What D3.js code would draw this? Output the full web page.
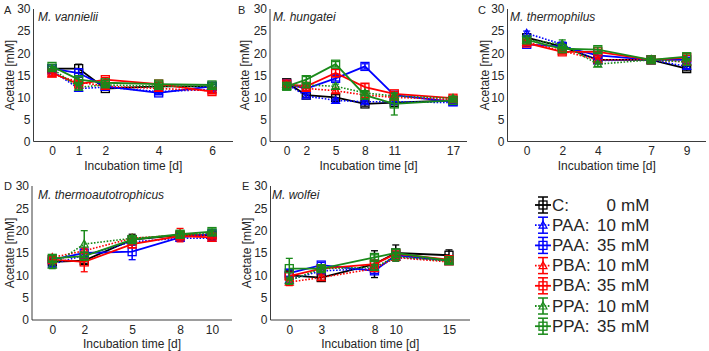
<!DOCTYPE html>
<html><head><meta charset="utf-8">
<script src="https://cdn.jsdelivr.net/npm/d3@7"></script>
<style>
html,body{margin:0;padding:0;background:#fff;}
text{font-family:"Liberation Sans",Arial,sans-serif;fill:#262626;}
</style></head>
<body><svg id="chart" width="709" height="351"></svg>
<script>
// ---------- DATA ----------
const seriesLabels = ["C:", "PAA:", "PAA:", "PBA:", "PBA:", "PPA:", "PPA:"];
const seriesDoses  = ["0 mM", "10 mM", "35 mM", "10 mM", "35 mM", "10 mM", "35 mM"];
const seriesColors = ["#000000", "#0000ff", "#0000ff", "#ff0000", "#ff0000", "#1a8a1a", "#1a8a1a"];
const seriesMarkers = ["square", "triangle", "square", "triangle", "square", "triangle", "square"];
const seriesDotted  = [false, true, false, true, false, true, false];

const panelLetters = ["A", "B", "C", "D", "E"];
const panelTitles = ["M. vannielii", "M. hungatei", "M. thermophilus", "M. thermoautotrophicus", "M. wolfei"];
const yTicks = [0, 5, 10, 15, 20, 25, 30];

const A_days = [0, 1, 2, 4, 6];
const A_values = [
  [16.5, 16.5, 12.0, 12.5, 12.5],
  [16.0, 12.0, 12.3, 11.3, 11.8],
  [16.5, 15.5, 12.5, 11.0, 12.5],
  [15.3, 13.5, 12.5, 12.0, 11.5],
  [15.5, 13.0, 14.0, 13.0, 11.3],
  [16.5, 12.3, 12.8, 12.5, 12.5],
  [17.0, 14.0, 13.3, 13.0, 12.8]
];
const A_err = [
  [0.5, 1.0, 0.4, 0.4, 0.4],
  [0.5, 0.6, 0.4, 0.5, 0.4],
  [0.5, 1.0, 0.5, 0.4, 0.5],
  [0.5, 0.5, 0.5, 0.4, 0.5],
  [0.5, 0.6, 0.5, 0.4, 0.5],
  [0.5, 0.6, 0.5, 0.4, 0.5],
  [0.5, 0.6, 0.5, 0.5, 0.5]
];

const B_days = [0, 2, 5, 8, 11, 17];
const B_values = [
  [13.3, 10.5, 10.0, 8.5, 8.8, 9.3],
  [13.0, 10.3, 9.3, 9.0, 9.0, 8.8],
  [13.0, 12.0, 14.3, 17.0, 10.5, 9.0],
  [13.0, 12.0, 11.5, 10.5, 10.0, 9.5],
  [13.0, 12.5, 15.5, 12.3, 10.8, 9.8],
  [12.5, 12.8, 12.5, 11.0, 10.3, 9.8],
  [12.5, 14.0, 17.5, 10.5, 8.5, 9.3]
];
const B_err = [
  [0.5, 0.5, 0.6, 0.5, 0.5, 0.4],
  [0.5, 0.4, 0.5, 0.4, 0.4, 0.5],
  [0.5, 0.5, 0.6, 0.6, 0.5, 0.4],
  [0.5, 0.5, 0.5, 0.5, 0.5, 0.4],
  [0.5, 0.5, 0.8, 0.8, 0.5, 0.5],
  [0.5, 0.5, 0.5, 0.5, 0.5, 0.4],
  [0.5, 0.7, 0.6, 0.8, 2.5, 0.4]
];

const C_days = [0, 2, 4, 7, 9];
const C_values = [
  [23.5, 21.5, 18.5, 18.5, 16.5],
  [24.5, 22.0, 18.3, 18.5, 17.0],
  [22.0, 21.5, 19.5, 18.5, 18.5],
  [22.5, 20.5, 18.5, 18.5, 18.0],
  [22.3, 20.3, 20.3, 18.5, 19.0],
  [23.0, 22.0, 17.5, 18.5, 18.0],
  [23.0, 21.0, 20.8, 18.5, 19.2]
];
const C_err = [
  [0.5, 0.6, 0.5, 0.5, 0.5],
  [0.5, 0.5, 0.5, 0.5, 0.5],
  [0.5, 0.5, 0.5, 0.5, 0.5],
  [0.5, 0.5, 0.5, 0.5, 0.5],
  [0.5, 0.5, 0.5, 0.5, 0.5],
  [0.5, 1.0, 0.5, 0.5, 0.8],
  [0.5, 0.5, 0.6, 0.5, 0.6]
];

const D_days = [0, 2, 5, 8, 10];
const D_values = [
  [13.0, 13.3, 18.0, 19.0, 19.0],
  [12.5, 14.5, 17.5, 18.3, 18.3],
  [13.5, 15.0, 15.3, 18.5, 19.3],
  [14.0, 15.5, 18.3, 19.0, 19.0],
  [13.5, 13.0, 17.0, 18.8, 18.5],
  [12.3, 17.0, 18.3, 19.0, 19.5],
  [13.8, 14.3, 18.0, 19.2, 19.8]
];
const D_err = [
  [0.6, 0.6, 1.2, 0.6, 0.6],
  [0.6, 0.6, 0.6, 0.5, 0.5],
  [0.7, 0.8, 1.8, 0.6, 0.6],
  [0.6, 0.6, 0.6, 1.5, 0.6],
  [0.6, 2.2, 0.8, 0.8, 0.6],
  [0.8, 3.0, 0.6, 0.6, 0.6],
  [0.6, 0.8, 0.6, 0.6, 0.6]
];

const E_days = [0, 3, 8, 10, 15];
const E_values = [
  [10.0, 9.5, 12.5, 15.0, 14.5],
  [9.0, 11.0, 11.5, 14.0, 13.3],
  [10.5, 12.3, 11.0, 14.5, 13.3],
  [8.5, 9.5, 11.5, 14.0, 13.0],
  [9.8, 11.5, 12.5, 14.8, 13.5],
  [8.8, 11.5, 11.8, 14.2, 13.2],
  [11.5, 11.5, 14.0, 15.0, 13.3]
];
const E_err = [
  [1.0, 0.6, 3.0, 1.8, 1.2],
  [0.8, 0.6, 0.6, 0.6, 0.5],
  [0.8, 0.6, 0.6, 0.6, 0.5],
  [0.8, 0.6, 0.6, 0.6, 0.5],
  [0.8, 0.6, 0.6, 0.6, 0.5],
  [0.8, 0.6, 0.6, 1.0, 0.5],
  [2.3, 0.6, 0.6, 0.8, 0.5]
];

const allDays = [A_days, B_days, C_days, D_days, E_days];
const allValues = [A_values, B_values, C_values, D_values, E_values];
const allErr = [A_err, B_err, C_err, D_err, E_err];

// ---------- LAYOUT ----------
const layouts = [
  {axL: 33.5, axR: 233, d0: 0, p0: 52,    d1: 6,  p1: 212,   yT: 9,   yB: 141.5, letter: [4, 14],   title: [38, 21],  ylabX: 10,  xlabY: 170},
  {axL: 270,  axR: 467, d0: 0, p0: 286.7, d1: 17, p1: 453,   yT: 9,   yB: 141.5, letter: [238, 14], title: [273, 21], ylabX: 245, xlabY: 170},
  {axL: 507.5,axR: 706, d0: 0, p0: 526.7, d1: 9,  p1: 686.7, yT: 9,   yB: 141.5, letter: [478, 14], title: [510, 21], ylabX: 485, xlabY: 170},
  {axL: 32,   axR: 232, d0: 0, p0: 52.3,  d1: 10, p1: 212,   yT: 186, yB: 320,   letter: [4, 190],  title: [38, 199], ylabX: 10,  xlabY: 348},
  {axL: 270.5,axR: 470, d0: 0, p0: 289.3, d1: 15, p1: 449,   yT: 186, yB: 320,   letter: [242, 190],title: [272, 199],ylabX: 247, xlabY: 348}
];

const svg = d3.select("#chart");
const axisColor = "#262626";
const fs = 12;

function drawMarker(g, type, x, y, color) {
  if (type === "square") {
    g.append("rect").attr("x", x - 4).attr("y", y - 4).attr("width", 8).attr("height", 8)
      .attr("fill", "none").attr("stroke", color).attr("stroke-width", 1.3);
  } else {
    const s = 4;
    g.append("path").attr("d", `M${x},${y - s}L${x + s},${y + s * 0.75}L${x - s},${y + s * 0.75}Z`)
      .attr("fill", "none").attr("stroke", color).attr("stroke-width", 1.2);
  }
}

layouts.forEach((L, pi) => {
  const days = allDays[pi], vals = allValues[pi], errs = allErr[pi];
  const x = d3.scaleLinear().domain([L.d0, L.d1]).range([L.p0, L.p1]);
  const y = d3.scaleLinear().domain([0, 30]).range([L.yB, L.yT]);
  const g = svg.append("g");

  // axes lines
  g.append("line").attr("x1", L.axL).attr("x2", L.axR).attr("y1", L.yB).attr("y2", L.yB)
    .attr("stroke", axisColor).attr("stroke-width", 0.9);
  g.append("line").attr("x1", L.axL).attr("x2", L.axL).attr("y1", L.yB).attr("y2", L.yT)
    .attr("stroke", axisColor).attr("stroke-width", 0.9);

  const xa = g.append("g").attr("transform", `translate(0,${L.yB})`)
    .call(d3.axisBottom(x).tickValues(days).tickFormat(d3.format("d")).tickSize(0).tickPadding(5));
  xa.select(".domain").remove();
  xa.selectAll("text").attr("font-size", fs).attr("font-family", "Liberation Sans, Arial").attr("fill", axisColor);

  const ya = g.append("g").attr("transform", `translate(${L.axL},0)`)
    .call(d3.axisLeft(y).tickValues(yTicks).tickSize(0).tickPadding(3));
  ya.select(".domain").remove();
  ya.selectAll("text").attr("font-size", fs).attr("font-family", "Liberation Sans, Arial").attr("fill", axisColor);

  // labels
  g.append("text").attr("x", (L.axL + L.axR) / 2).attr("y", L.xlabY).attr("text-anchor", "middle")
    .attr("font-size", fs).text("Incubation time [d]");
  g.append("text").attr("transform", `translate(${L.ylabX},${(L.yT + L.yB) / 2}) rotate(-90)`)
    .attr("text-anchor", "middle").attr("dominant-baseline", "central").attr("font-size", fs).text("Acetate [mM]");
  g.append("text").attr("x", L.letter[0]).attr("y", L.letter[1]).attr("font-size", 11).text(panelLetters[pi]);
  g.append("text").attr("x", L.title[0]).attr("y", L.title[1]).attr("font-size", 12)
    .attr("font-style", "italic").text(panelTitles[pi]);

  const line = d3.line().x(d => x(d[0])).y(d => y(d[1]));
  vals.forEach((sv, si) => {
    const col = seriesColors[si];
    const sg = g.append("g");
    const pts = days.map((d, i) => [d, sv[i], errs[si][i]]);
    sg.append("path").datum(pts).attr("d", line).attr("fill", "none").attr("stroke", col)
      .attr("stroke-width", seriesDotted[si] ? 1.6 : 1.8)
      .attr("stroke-dasharray", seriesDotted[si] ? "1.6,1.6" : null);
    pts.forEach(p => {
      const cx = x(p[0]), y1 = y(p[1] + p[2]), y2 = y(p[1] - p[2]);
      sg.append("line").attr("x1", cx).attr("x2", cx).attr("y1", y1).attr("y2", y2)
        .attr("stroke", col).attr("stroke-width", 1.5);
      [y1, y2].forEach(yy => sg.append("line").attr("x1", cx - 3.5).attr("x2", cx + 3.5)
        .attr("y1", yy).attr("y2", yy).attr("stroke", col).attr("stroke-width", 1.3));
      drawMarker(sg, seriesMarkers[si], cx, y(p[1]), col);
    });
  });
});

// ---------- LEGEND ----------
const lg = svg.append("g");
seriesLabels.forEach((lab, i) => {
  const cy = 205 + i * 20.2;
  const col = seriesColors[i];
  lg.append("line").attr("x1", 535).attr("x2", 551).attr("y1", cy).attr("y2", cy)
    .attr("stroke", col).attr("stroke-width", 1.8)
    .attr("stroke-dasharray", seriesDotted[i] ? "1.6,1.6" : null);
  lg.append("line").attr("x1", 543).attr("x2", 543).attr("y1", cy - 8).attr("y2", cy + 8)
    .attr("stroke", col).attr("stroke-width", 1.6);
  [cy - 8, cy + 8].forEach(yy => lg.append("line").attr("x1", 538).attr("x2", 548)
    .attr("y1", yy).attr("y2", yy).attr("stroke", col).attr("stroke-width", 1.5));
  drawMarker(lg, seriesMarkers[i], 543, cy, col);
  lg.append("text").attr("x", 552).attr("y", cy).attr("dominant-baseline", "central")
    .attr("font-size", 17).attr("fill", "#000").text(lab);
  const parts = seriesDoses[i].split(" ");
  lg.append("text").attr("x", 616).attr("y", cy).attr("dominant-baseline", "central")
    .attr("text-anchor", "end").attr("font-size", 17).attr("fill", "#000").text(parts[0]);
  lg.append("text").attr("x", 621).attr("y", cy).attr("dominant-baseline", "central")
    .attr("font-size", 17).attr("fill", "#000").text(parts[1]);
});
</script>
</body></html>
